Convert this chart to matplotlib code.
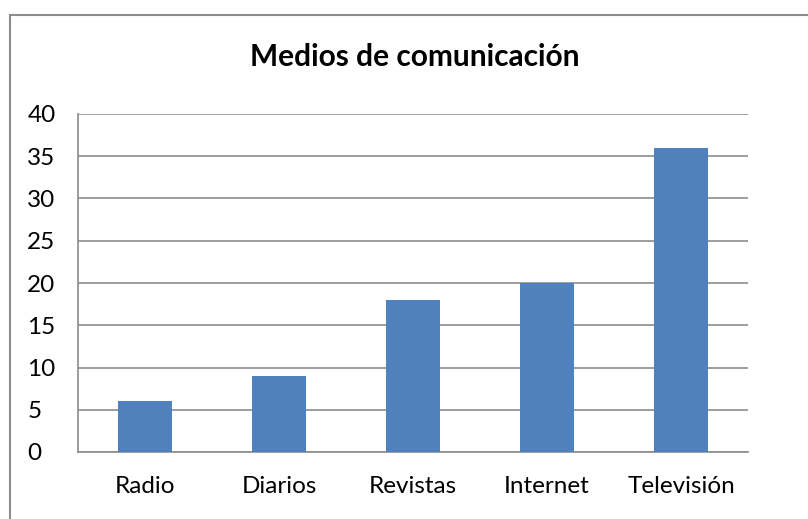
import matplotlib.pyplot as plt
from matplotlib.patches import Rectangle

# Data
categorias = ['Radio', 'Diarios', 'Revistas', 'Internet', 'Televisión']
valores = [6, 9, 18, 20, 36]
yticks = [0, 5, 10, 15, 20, 25, 30, 35, 40]

plt.rcParams['font.family'] = ['Lato', 'DejaVu Sans']

fig = plt.figure(figsize=(8.08, 5.19), dpi=100)
ax = fig.add_axes([78 / 808, 1 - 452 / 519, 670 / 808, 338 / 519])

# outer chart border
fig.patches.append(Rectangle((10 / 808, -0.1), 1.2, 1 - 15 / 519 + 0.1,
                             transform=fig.transFigure, fill=False,
                             edgecolor='#8c8c8c', linewidth=1.5))

x = range(len(categorias))
ax.bar(x, valores, width=0.4, color='#4f81bd', zorder=3)

ax.set_xlim(-0.5, len(categorias) - 0.5)
ax.set_ylim(0, 40)
ax.set_yticks(yticks)
ax.set_xticks(list(x))
ax.set_xticklabels(categorias)
ax.yaxis.grid(True, color='#8c8c8c', linewidth=1.2, zorder=0)
ax.tick_params(axis='both', length=0, labelsize=17.5, colors='black')
ax.tick_params(axis='x', pad=17)
ax.tick_params(axis='y', pad=36.5)
for t in ax.get_yticklabels():
    t.set_horizontalalignment('left')

for s in ['top', 'right']:
    ax.spines[s].set_visible(False)
ax.spines['left'].set_color('#8c8c8c')
ax.spines['bottom'].set_color('#8c8c8c')
ax.spines['left'].set_linewidth(1.2)
ax.spines['bottom'].set_linewidth(1.2)

fig.text(415 / 808, 1 - 57 / 519, 'Medios de comunicación', ha='center', va='center',
         fontsize=21.5, fontweight='bold')

fig.savefig('out.png', dpi=100)
